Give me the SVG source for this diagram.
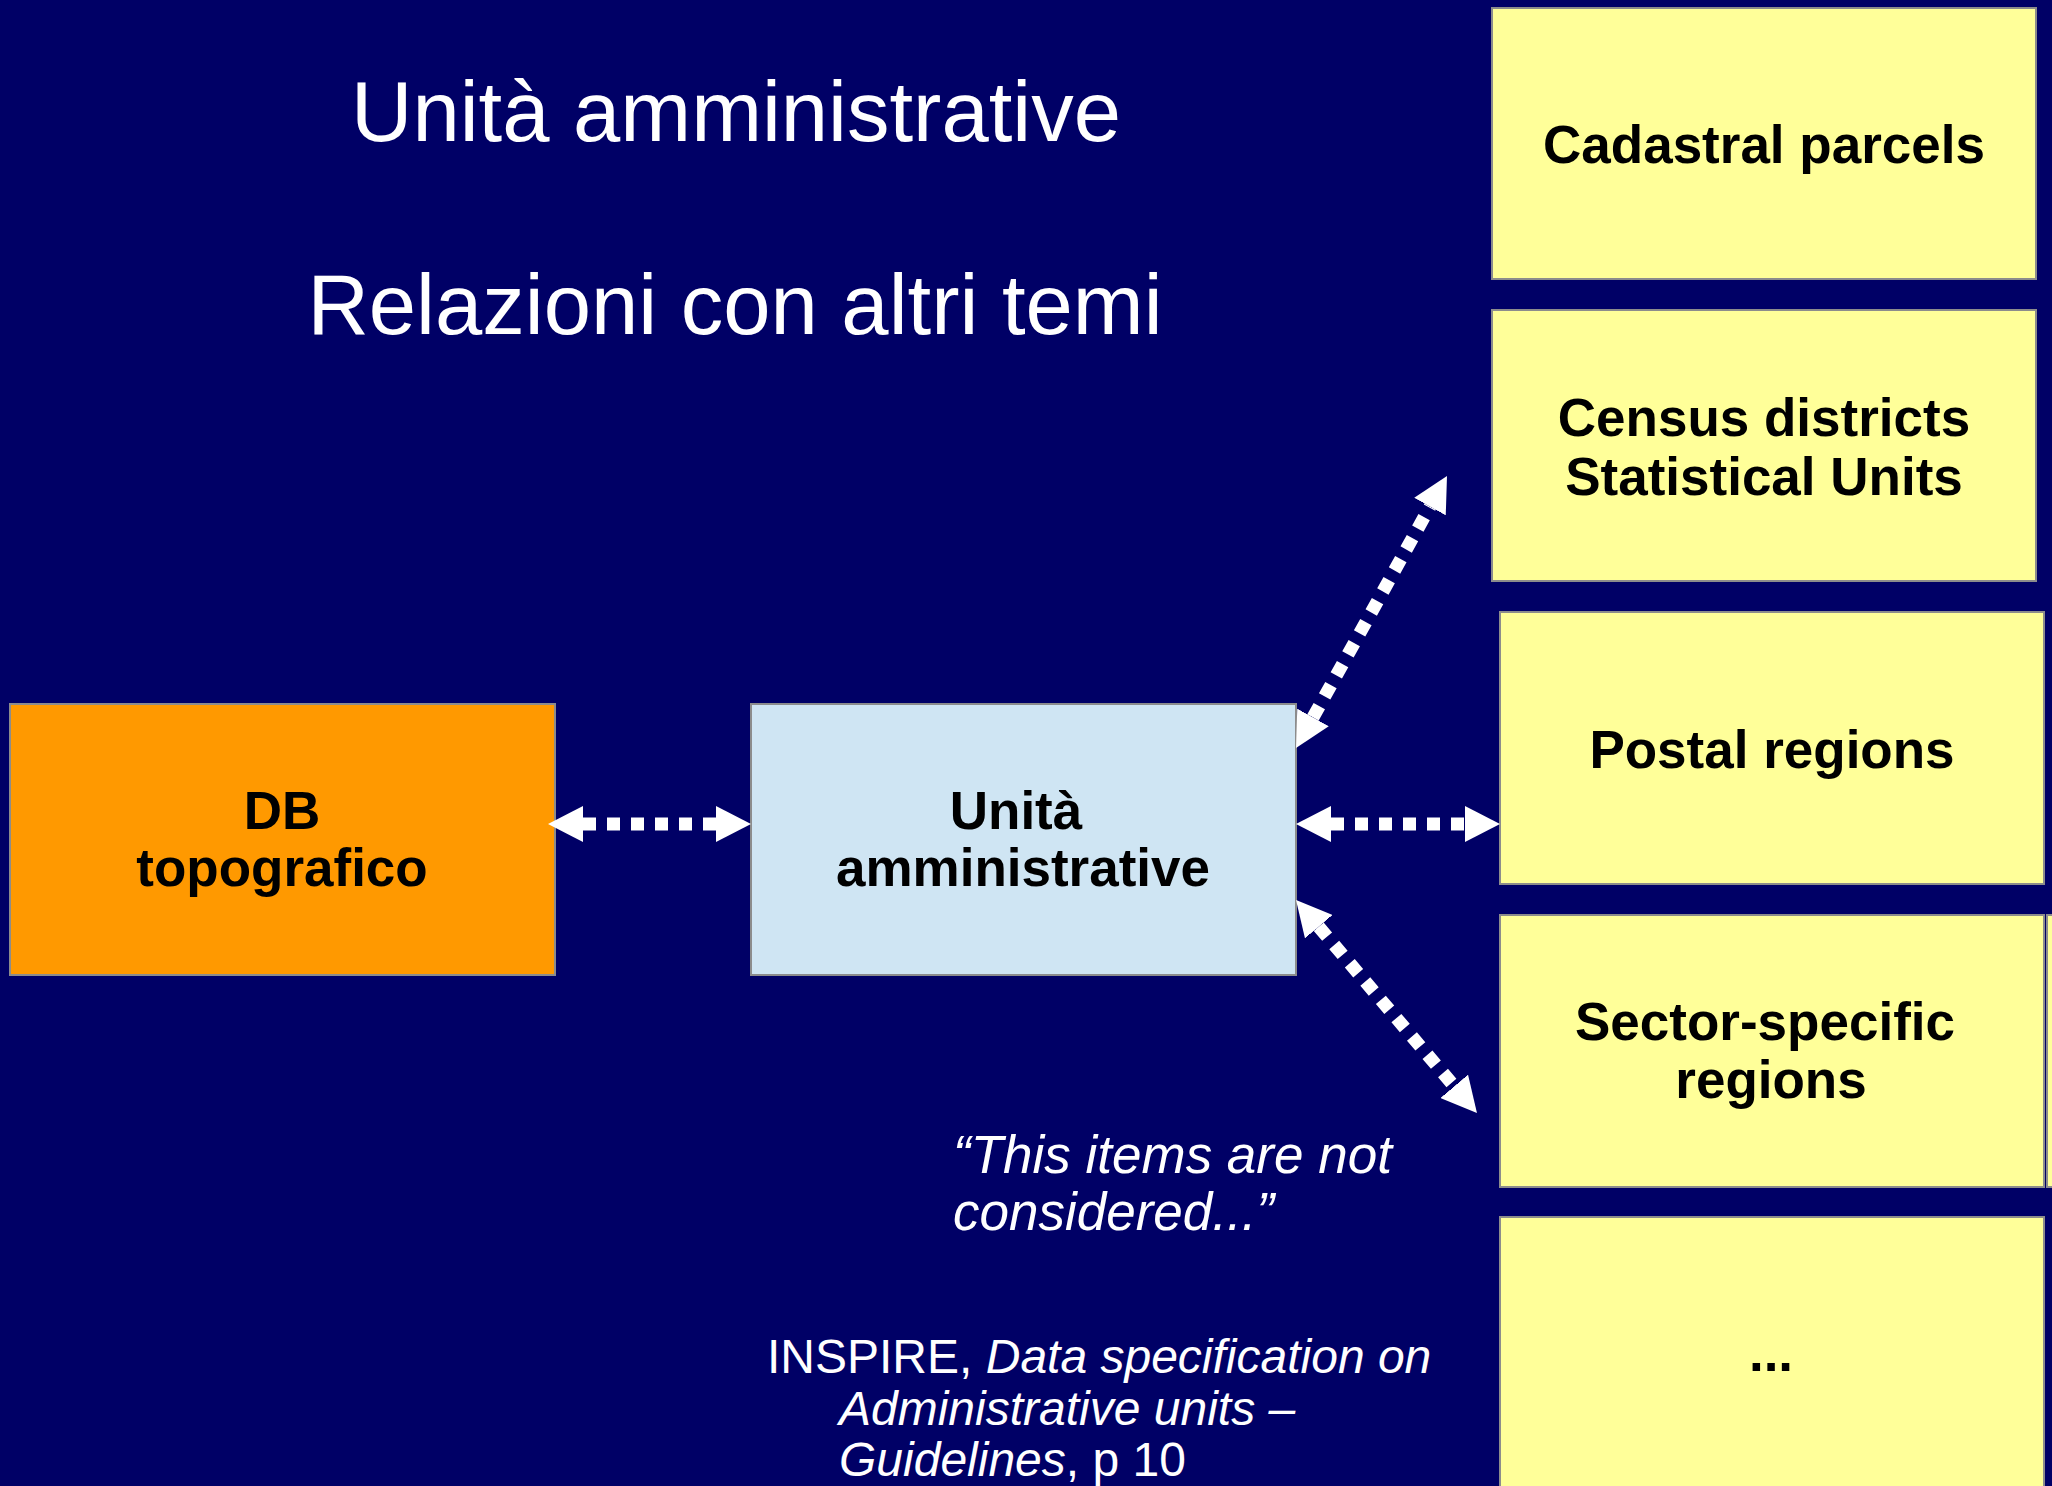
<svg xmlns="http://www.w3.org/2000/svg" width="2052" height="1486" viewBox="0 0 2052 1486">
<defs>
<style>
.box{stroke:#8c8c8c;stroke-width:2}
.yellow{fill:#FFFF99}
.lbl{font-family:"Liberation Sans",Arial,sans-serif;font-weight:bold;font-size:53px;fill:#000;text-anchor:middle}
.title{font-family:"Liberation Sans",Arial,sans-serif;font-size:85px;fill:#fff;text-anchor:middle}
.note{font-family:"Liberation Sans",Arial,sans-serif;fill:#fff}
.conn{stroke:#fff;stroke-width:13;stroke-dasharray:13 11;fill:none;marker-start:url(#ah);marker-end:url(#ah)}
</style>
<marker id="ah" viewBox="0 0 35 36" refX="0" refY="18" markerWidth="35" markerHeight="36" markerUnits="userSpaceOnUse" orient="auto-start-reverse">
<path d="M0,0 L35,18 L0,36 z" fill="#fff"/>
</marker>
</defs>
<rect x="0" y="0" width="2052" height="1486" fill="#000066"/>
<g id="titles">
<text class="title" x="736" y="141">Unità amministrative</text>
<text class="title" x="735" y="334">Relazioni con altri temi</text>
</g>
<g id="node-db">
<rect class="box" x="10" y="704" width="545" height="271" fill="#FF9900"/>
<text class="lbl" x="282" y="829">DB</text>
<text class="lbl" x="282" y="886">topografico</text>
</g>
<g id="node-unita">
<rect class="box" x="751" y="704" width="545" height="271" fill="#CFE5F3"/>
<text class="lbl" x="1016" y="829">Unità</text>
<text class="lbl" x="1023" y="886">amministrative</text>
</g>
<g id="node-cadastral">
<rect class="box yellow" x="1492" y="8" width="544" height="271"/>
<text class="lbl" x="1764" y="163">Cadastral parcels</text>
</g>
<g id="node-census">
<rect class="box yellow" x="1492" y="310" width="544" height="271"/>
<text class="lbl" x="1764" y="436">Census districts</text>
<text class="lbl" x="1764" y="495">Statistical Units</text>
</g>
<g id="node-postal">
<rect class="box yellow" x="1500" y="612" width="544" height="272"/>
<text class="lbl" x="1772" y="768">Postal regions</text>
</g>
<g id="node-sector-behind">
<rect class="box yellow" x="2047" y="915" width="300" height="272"/>
</g>
<g id="node-sector">
<rect class="box yellow" x="1500" y="915" width="544" height="272"/>
<text class="lbl" x="1765" y="1040">Sector-specific</text>
<text class="lbl" x="1771" y="1098">regions</text>
</g>
<g id="node-more">
<rect class="box yellow" x="1500" y="1217" width="544" height="300"/>
<text class="lbl" x="1771" y="1371">...</text>
</g>
<g id="notes">
<text class="note" font-style="italic" font-size="53" x="953" y="1173">“This items are not</text>
<text class="note" font-style="italic" font-size="53" x="953" y="1230">considered...”</text>
<text class="note" font-size="48" x="767" y="1373">INSPIRE, <tspan font-style="italic">Data specification on</tspan></text>
<text class="note" font-size="48" font-style="italic" x="839" y="1425">Administrative units –</text>
<text class="note" font-size="48" x="839" y="1476"><tspan font-style="italic">Guidelines</tspan>, p 10</text>
</g>
<g id="connectors">
<line class="conn" x1="583" y1="824" x2="716" y2="824"/>
<line class="conn" x1="1331" y1="824" x2="1465" y2="824"/>
<line class="conn" x1="1313" y1="717.4" x2="1430" y2="506.6"/>
<line class="conn" x1="1318.7" y1="926.7" x2="1454.3" y2="1086.3"/>
</g>
</svg>
